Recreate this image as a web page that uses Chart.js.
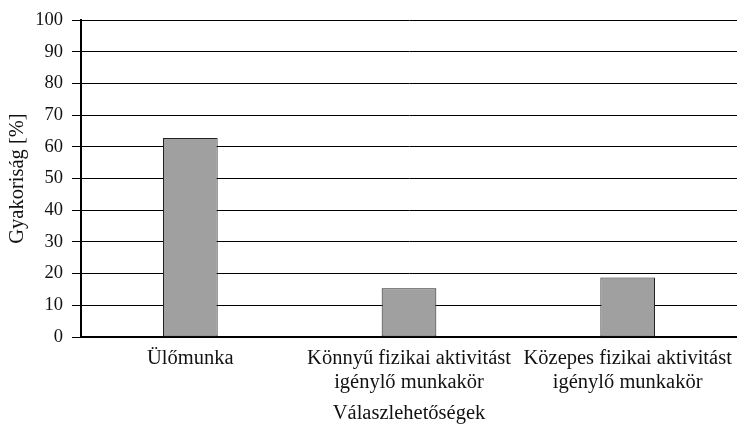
<!DOCTYPE html>
<html>
<head>
<meta charset="utf-8">
<script src="https://cdn.jsdelivr.net/npm/chart.js@4"></script>
<style>
  html, body { margin: 0; padding: 0; background: #fff; }
  #wrap { width: 737px; height: 429px; }
</style>
</head>
<body>
<div id="wrap"><canvas id="chart"></canvas></div>
<script>
// Data
const categories = [
  'Ülőmunka',
  ['Könnyű fizikai aktivitást', 'igénylő munkakör'],
  ['Közepes fizikai aktivitást', 'igénylő munkakör']
];
const frequency = [62.8, 15.4, 18.8];
const yTicks = [0, 10, 20, 30, 40, 50, 60, 70, 80, 90, 100];

const serif = "'Liberation Serif', 'DejaVu Serif', serif";

const ctx = document.getElementById('chart').getContext('2d');
new Chart(ctx, {
  type: 'bar',
  data: {
    labels: categories,
    datasets: [{
      label: 'Gyakoriság',
      data: frequency,
      backgroundColor: '#a0a0a0',
      borderColor: '#222',
      borderWidth: 1,
      borderSkipped: false,
      barPercentage: 0.25,
      categoryPercentage: 1.0
    }]
  },
  options: {
    responsive: true,
    maintainAspectRatio: false,
    animation: false,
    layout: { padding: { top: 10, right: 0, left: 0, bottom: 0 } },
    plugins: {
      legend: { display: false },
      tooltip: { enabled: false }
    },
    scales: {
      x: {
        grid: { display: false, drawTicks: false },
        border: { color: '#000', width: 2 },
        ticks: { color: '#111', font: { family: serif, size: 20.5, lineHeight: 1.2 }, padding: 9, maxRotation: 0 },
        title: { display: true, text: 'Válaszlehetőségek', color: '#111', font: { family: serif, size: 20.5 }, padding: { top: 0, bottom: 3 } },
        afterFit: s => { s.height = 92; s.paddingLeft = 0; s.paddingRight = 0; }
      },
      y: {
        min: 0,
        max: 100,
        afterBuildTicks: axis => { axis.ticks = yTicks.map(v => ({ value: v })); },
        grid: { color: '#000', lineWidth: 1, tickLength: 9, drawTicks: true },
        border: { color: '#000', width: 2 },
        ticks: { color: '#111', font: { family: serif, size: 18.5 }, padding: 9 },
        title: { display: true, text: 'Gyakoriság [%]', color: '#111', font: { family: serif, size: 20.5 }, padding: { top: 5, bottom: 0 } },
        afterFit: s => { s.width = 81; }
      }
    }
  }
});
</script>
</body>
</html>
